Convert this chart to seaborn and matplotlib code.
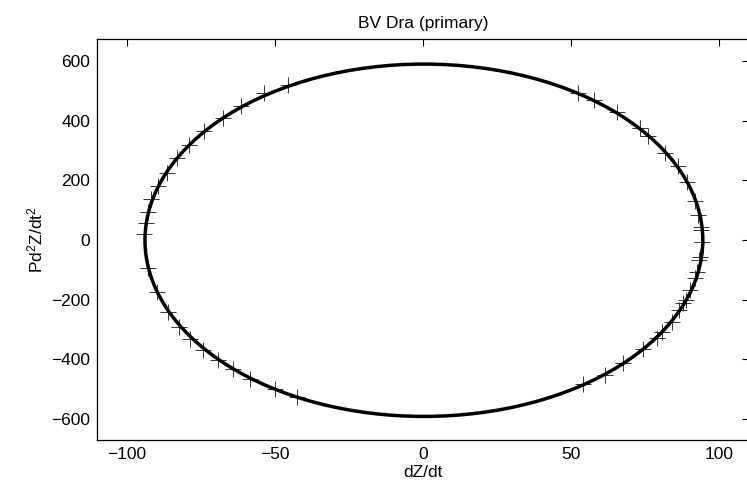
import matplotlib
matplotlib.use("Agg")
import matplotlib.pyplot as plt
from matplotlib.patches import Ellipse
import seaborn as sns
import pandas as pd

# observed points (dZ/dt, P d2Z/dt2)
dzdt = [-45.7, -53.6, -61.3, -67.7, -73.9, -79.0, -83.2, -86.6, -89.6, -91.7,
        -92.8, -93.6, -94.2, -92.8, -90.0, -86.0, -82.3, -78.7, -74.2, -69.2,
        -64.1, -58.4, -50.0, -42.7,
        52.5, 57.8, 65.4, 73.3, 76.1, 81.8, 86.0, 89.1, 91.9, 93.0, 93.8, 93.8,
        94.2, 93.6, 93.3, 92.5, 91.9, 90.3, 88.9, 87.9, 86.3, 84.0, 80.6, 79.0,
        74.2, 67.5, 61.5, 54.2]
pd2zdt2 = [519, 491, 449, 408, 366, 318, 274, 225, 181, 136,
           95, 56, 19, -95, -173, -240, -290, -333, -368, -402,
           -433, -467, -500, -527,
           491, 469, 430, 374, 348, 290, 246, 194, 131, 84, 44, 33,
           -8, -57, -67, -107, -128, -168, -201, -212, -235, -274, -307, -329,
           -366, -413, -452, -482]

# fitted orbit curve (centre and semi-axes)
curve_center = (0.3, -1.0)
curve_semi_x = 94.2
curve_semi_y = 590.0

xticks = [-100, -50, 0, 50, 100]
yticks = [-600, -400, -200, 0, 200, 400, 600]

sns.set_style("white")
plt.rcParams['font.family'] = ['Liberation Sans', 'DejaVu Sans']
plt.rcParams['mathtext.fontset'] = 'custom'
plt.rcParams['mathtext.rm'] = 'Liberation Sans'
plt.rcParams['mathtext.it'] = 'Liberation Sans'
plt.rcParams['text.color'] = 'black'
plt.rcParams['axes.labelcolor'] = 'black'
plt.rcParams['xtick.color'] = 'black'
plt.rcParams['ytick.color'] = 'black'

fig = plt.figure(figsize=(7.47, 4.95), dpi=100)
ax = fig.add_axes([97.3 / 747, 1 - 440 / 495, (748.7 - 97.3) / 747, (440 - 39.3) / 495])

df = pd.DataFrame({"x": dzdt, "y": pd2zdt2})
sns.scatterplot(data=df, x="x", y="y", marker="+", s=130, color="#333333",
                linewidth=0.7, ax=ax, zorder=2)

ax.add_patch(Ellipse(curve_center, 2 * curve_semi_x, 2 * curve_semi_y,
                     fill=False, edgecolor="black", linewidth=2.5, zorder=3))

ax.set_xlim(-110, 110)
ax.set_ylim(-670, 672)
ax.set_xticks(xticks)
ax.set_yticks(yticks)
ax.set_xticklabels([str(t).replace("-", "\u2212") for t in xticks])
ax.set_yticklabels([str(t).replace("-", "\u2212") for t in yticks])
ax.tick_params(direction="in", length=5, width=0.8, top=True, right=True,
               labelsize=12.5, pad=5, colors="black")
for s in ax.spines.values():
    s.set_visible(True)
    s.set_linewidth(0.9)
    s.set_color("black")

ax.set_xlabel("dZ/dt", fontsize=12.5, labelpad=2, color="black")
ax.set_ylabel("Pd$^2$Z/dt$^2$", fontsize=12.5, labelpad=4, color="black")
ax.set_title("BV Dra (primary)", fontsize=12.5, pad=8, color="black")

fig.savefig("out.png", dpi=100)
